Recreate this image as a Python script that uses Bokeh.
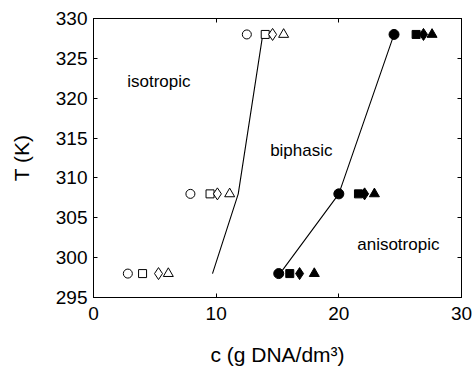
from bokeh.plotting import figure
from bokeh.models import LinearAxis, Range1d, FixedTicker, Label
from bokeh.embed import file_html
from bokeh.resources import INLINE

# Temperatures (K)
T = [298, 308, 328]
# isotropic side (open symbols), c in g DNA/dm^3
iso_circle = [2.8, 7.9, 12.5]
iso_square = [4.0, 9.5, 14.0]
iso_diamond = [5.3, 10.1, 14.6]
iso_triangle = [6.1, 11.1, 15.5]
# anisotropic side (filled symbols)
ani_circle = [15.1, 20.0, 24.5]
ani_square = [16.0, 21.6, 26.3]
ani_diamond = [16.8, 22.1, 26.9]
ani_triangle = [18.0, 22.9, 27.6]
# phase boundaries
iso_boundary_c = [9.7, 11.8, 13.8]
ani_boundary_c = [15.2, 20.0, 24.5]

x_ticks = [0, 10, 20, 30]
y_ticks = [295, 300, 305, 310, 315, 320, 325, 330]

FONT = "Liberation Sans"

p = figure(width=474, height=378, output_backend="svg", toolbar_location=None,
           x_range=Range1d(0, 30), y_range=Range1d(295, 330),
           min_border_left=93, min_border_right=13, min_border_top=18, min_border_bottom=81)
p.background_fill_color = "white"
p.border_fill_color = "white"
p.outline_line_color = "black"
p.outline_line_width = 1
p.xgrid.visible = False
p.ygrid.visible = False

for ax, ticks in ((p.xaxis[0], x_ticks), (p.yaxis[0], y_ticks)):
    ax.ticker = FixedTicker(ticks=ticks)
    ax.major_tick_in = 4
    ax.major_tick_out = 0
    ax.minor_tick_line_color = None
    ax.axis_line_color = "black"
    ax.major_label_text_font = FONT
    ax.major_label_text_font_size = "19px"
    ax.major_label_text_color = "black"
    ax.axis_label_text_font = FONT
    ax.axis_label_text_font_size = "21px"
    ax.axis_label_text_font_style = "normal"
    ax.axis_label_text_color = "black"

p.xaxis[0].axis_label = "c (g DNA/dm³)"
p.xaxis[0].major_label_standoff = 9
p.xaxis[0].axis_label_standoff = 20
p.yaxis[0].axis_label = "T (K)"
p.yaxis[0].major_label_standoff = 6
p.yaxis[0].axis_label_standoff = 20

top = LinearAxis(ticker=FixedTicker(ticks=x_ticks), major_tick_in=4, major_tick_out=0,
                 minor_tick_line_color=None, major_label_text_font_size="1px",
                 major_label_text_color=None, major_label_standoff=0)
right = LinearAxis(ticker=FixedTicker(ticks=y_ticks), major_tick_in=4, major_tick_out=0,
                   minor_tick_line_color=None, major_label_text_font_size="1px",
                   major_label_text_color=None, major_label_standoff=0)
p.add_layout(top, "above")
p.add_layout(right, "right")

p.line(iso_boundary_c, T, line_color="black", line_width=1.1)
p.line(ani_boundary_c, T, line_color="black", line_width=1.1)

S = 9
p.scatter(iso_circle, T, marker="circle", size=S, fill_color="white", line_color="black")
p.scatter(iso_square, T, marker="square", size=S - 1, fill_color="white", line_color="black")
p.scatter(iso_diamond, T, marker="diamond", size=S + 3, fill_color="white", line_color="black")
p.scatter(iso_triangle, T, marker="triangle", size=S + 1, fill_color="white", line_color="black")
p.scatter(ani_circle, T, marker="circle", size=S + 1, fill_color="black", line_color="black")
p.scatter(ani_square, T, marker="square", size=S - 1, fill_color="black", line_color="black")
p.scatter(ani_diamond, T, marker="diamond", size=S + 3, fill_color="black", line_color="black")
p.scatter(ani_triangle, T, marker="triangle", size=S + 1, fill_color="black", line_color="black")

for txt, x, y in (("isotropic", 2.75, 322.1), ("biphasic", 14.4, 313.5), ("anisotropic", 21.5, 301.6)):
    p.add_layout(Label(x=x, y=y, text=txt, text_font=FONT, text_font_size="17px",
                       text_color="black", text_baseline="alphabetic"))

open("out.html", "w").write(file_html(p, INLINE))
